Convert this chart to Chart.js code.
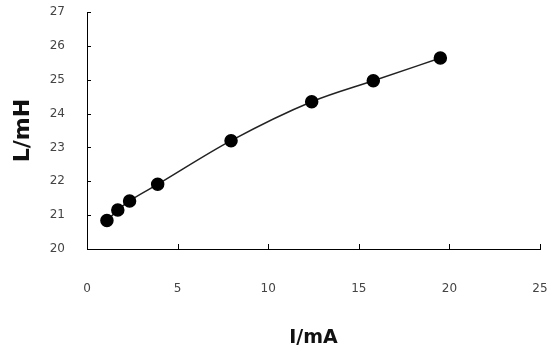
<!DOCTYPE html>
<html>
<head>
<meta charset="utf-8">
<script src="https://cdn.jsdelivr.net/npm/chart.js@4/dist/chart.umd.min.js"></script>
<style>
  html, body { margin: 0; padding: 0; background: #fff; }
  #wrap { width: 548px; height: 356px; }
</style>
</head>
<body>
<div id="wrap"><canvas id="chart" width="548" height="356"></canvas></div>
<script>
// measured current (mA) and inductance (mH)
const currentMA = [1.1, 1.7, 2.35, 3.9, 7.95, 12.4, 15.8, 19.5];
const inductanceMH = [20.84, 21.15, 21.42, 21.91, 23.2, 24.35, 24.97, 25.64];
const xTitle = 'I/mA';
const yTitle = 'L/mH';

// short tick marks pointing into the plot, like the original
const innerTicks = {
  id: 'innerTicks',
  afterDraw(chart) {
    const ctx = chart.ctx;
    const area = chart.chartArea;
    const xs = chart.scales.x;
    const ys = chart.scales.y;
    ctx.save();
    ctx.strokeStyle = '#000';
    ctx.lineWidth = 1;
    ctx.beginPath();
    xs.ticks.forEach((t, i) => {
      const px = Math.round(xs.getPixelForTick(i)) + 0.5;
      ctx.moveTo(px, area.bottom);
      ctx.lineTo(px, area.bottom - 5);
    });
    ys.ticks.forEach((t, i) => {
      const py = Math.round(ys.getPixelForTick(i)) + 0.5;
      ctx.moveTo(area.left, py);
      ctx.lineTo(area.left + 4, py);
    });
    ctx.stroke();
    ctx.restore();
  }
};

const points = currentMA.map((x, i) => ({ x: x, y: inductanceMH[i] }));

new Chart(document.getElementById('chart'), {
  type: 'line',
  data: {
    datasets: [{
      data: points,
      borderColor: '#222',
      borderWidth: 1.5,
      backgroundColor: '#000',
      pointBackgroundColor: '#000',
      pointBorderColor: '#000',
      pointRadius: 6,
      cubicInterpolationMode: 'monotone'
    }]
  },
  options: {
    responsive: false,
    animation: false,
    layout: { padding: { top: 12, right: 8, left: 0, bottom: 0 } },
    plugins: { legend: { display: false }, tooltip: { enabled: false } },
    scales: {
      x: {
        type: 'linear',
        min: 0,
        max: 25,
        ticks: { stepSize: 5, padding: 33, color: '#444', font: { family: 'DejaVu Sans', size: 12 } },
        grid: { display: false, drawTicks: false },
        border: { color: '#000', width: 1 },
        title: { display: true, text: xTitle, color: '#111', padding: { top: 0, bottom: 7 }, font: { family: 'DejaVu Sans', size: 19, weight: 'bold' } },
        afterFit: (scale) => {
          scale.height = 107;
          // tick padding should not push the plot edges inward
          scale.paddingLeft = 0;
          scale.paddingRight = 0;
        }
      },
      y: {
        min: 20,
        max: 27,
        ticks: { stepSize: 1, padding: 22, color: '#444', font: { family: 'DejaVu Sans', size: 12 } },
        grid: { display: false, drawTicks: false },
        border: { color: '#000', width: 1 },
        title: { display: true, text: yTitle, color: '#111', padding: { top: 10, bottom: 0 }, font: { family: 'DejaVu Sans', size: 22, weight: 'bold' } },
        afterFit: (scale) => {
          scale.width = 87;
          scale.paddingTop = 0;
          scale.paddingBottom = 0;
        }
      }
    }
  },
  plugins: [innerTicks]
});
</script>
</body>
</html>
